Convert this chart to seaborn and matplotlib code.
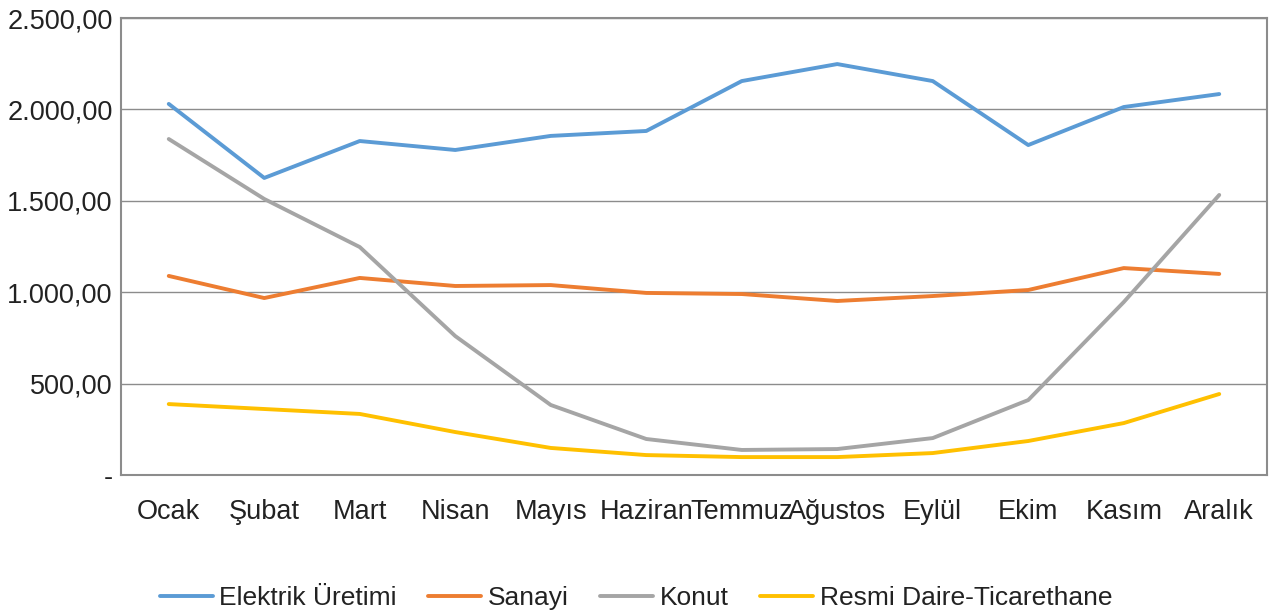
import matplotlib
matplotlib.use("Agg")
import matplotlib.pyplot as plt
import matplotlib.ticker as mticker
import seaborn as sns
import pandas as pd

months = ["Ocak", "Şubat", "Mart", "Nisan", "Mayıs", "Haziran",
          "Temmuz", "Ağustos", "Eylül", "Ekim", "Kasım", "Aralık"]
elektrik = [2030, 1625, 1827, 1778, 1855, 1882, 2155, 2248, 2155, 1805, 2013, 2084]
sanayi = [1089, 968, 1078, 1034, 1039, 996, 990, 952, 979, 1012, 1132, 1100]
konut = [1838, 1510, 1247, 760, 383, 197, 137, 142, 202, 410, 946, 1532]
resmi = [388, 361, 334, 235, 148, 109, 98, 98, 120, 186, 284, 443]

series_names = ["Elektrik Üretimi", "Sanayi", "Konut", "Resmi Daire-Ticarethane"]
series_values = [elektrik, sanayi, konut, resmi]
colors = ["#5B9BD5", "#ED7D31", "#A5A5A5", "#FFC000"]
y_ticks = [0, 500, 1000, 1500, 2000, 2500]

rows = []
for name, vals in zip(series_names, series_values):
    for i, v in enumerate(vals):
        rows.append({"Ay": i, "Seri": name, "Değer": v})
df = pd.DataFrame(rows)

sns.set_theme(style="white")
plt.rcParams["font.family"] = ["Liberation Sans", "DejaVu Sans"]

fig, ax = plt.subplots(figsize=(12.72, 6.14), dpi=100)
fig.subplots_adjust(left=121 / 1272, right=1267 / 1272, top=1 - 18 / 614, bottom=1 - 475 / 614)

sns.lineplot(data=df, x="Ay", y="Değer", hue="Seri", hue_order=series_names,
             palette=colors, linewidth=2.8, ax=ax, legend=False, zorder=3)

ax.set_xlim(-0.5, len(months) - 0.5)
ax.set_ylim(0, 2500)
ax.set_xticks(range(len(months)))
ax.set_xticklabels(months)
ax.set_yticks(y_ticks)


def tr_fmt(v, pos):
    # Turkish number format; zero is shown as a dash
    if v == 0:
        return "-"
    s = f"{v:,.2f}"
    return s.replace(",", "X").replace(".", ",").replace("X", ".")


ax.yaxis.set_major_formatter(mticker.FuncFormatter(tr_fmt))
ax.set_xlabel("")
ax.set_ylabel("")
ax.grid(axis="y", color="#8C8C8C", linewidth=1.0, zorder=1)
for sp in ax.spines.values():
    sp.set_visible(True)
    sp.set_color("#8C8C8C")
    sp.set_linewidth(1.5)
ax.tick_params(axis="both", length=0, labelsize=19.5, colors="#222222")
ax.tick_params(axis="x", pad=17)
ax.tick_params(axis="y", pad=6)

handles = [plt.Line2D([], [], color=c, linewidth=2.8) for c in colors]
fig.legend(handles, series_names, loc="center", bbox_to_anchor=(0.5, 1 - 598 / 614),
           ncol=4, frameon=False, fontsize=19, handlelength=2.0, handletextpad=0.25,
           columnspacing=1.2, labelcolor="#222222")

fig.savefig("out.png", dpi=100)
